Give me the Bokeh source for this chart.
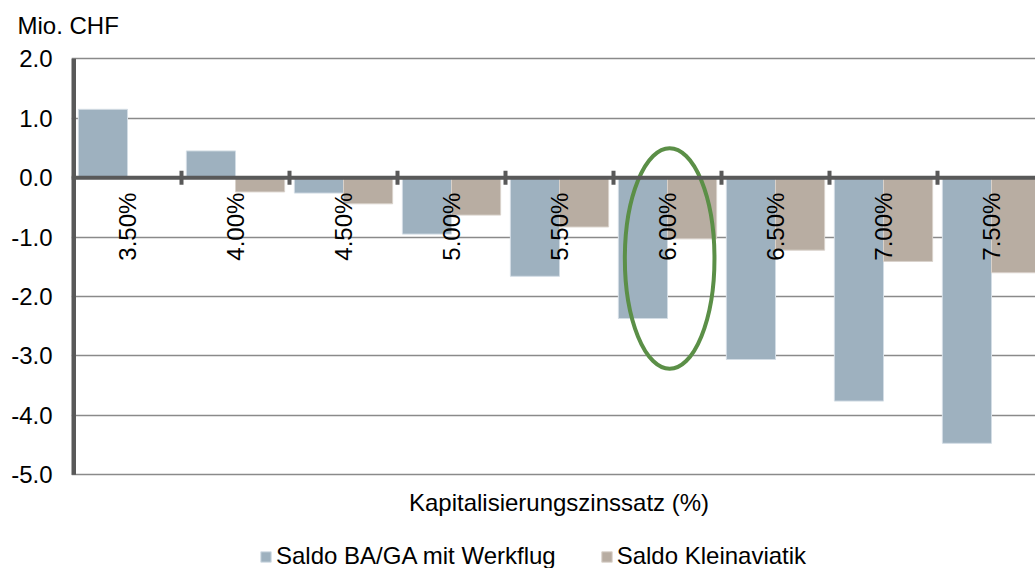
import math
from bokeh.plotting import figure
from bokeh.models import (Range1d, FixedTicker, NumeralTickFormatter, Span, Label,
                          Legend, LegendItem)
from bokeh.core.properties import value
from bokeh.embed import file_html
from bokeh.resources import INLINE

# ---------------- data ----------------
categories = ["3.50%", "4.00%", "4.50%", "5.00%", "5.50%", "6.00%", "6.50%", "7.00%", "7.50%"]
saldo_ba_ga = [1.15, 0.45, -0.26, -0.95, -1.66, -2.37, -3.06, -3.76, -4.47]
saldo_klein = [0.0, -0.24, -0.44, -0.63, -0.83, -1.03, -1.22, -1.41, -1.60]
series_names = ["Saldo BA/GA mit Werkflug", "Saldo Kleinaviatik"]
y_ticks = [-5, -4, -3, -2, -1, 0, 1, 2]
y_unit_label = "Mio. CHF"
x_title = "Kapitalisierungszinssatz (%)"
highlight = "6.00%"

# ---------------- style / geometry ----------------
FONT = "Liberation Sans"
FS = "24px"
AXIS_COLOR = "#595959"
GRID_COLOR = "#8a8a8a"
BA_COLOR = "#9EB1BF"
BA_EDGE = "#d3dde5"
KL_COLOR = "#B8ADA2"
KL_EDGE = "#d9d2cb"
ELLIPSE_COLOR = "#5B8F47"

W, H = 1035, 568
FRAME_LEFT = 71          # px, left edge of plotting frame
X0_PX = 73               # px, where category 0 starts
CAT_PX = 108             # px per category
FRAME_TOP = 40
Y_TOP_PX, Y_BOT_PX = 58.3, 474.3   # px of the top / bottom tick
PX_PER_UNIT = (Y_BOT_PX - Y_TOP_PX) / (y_ticks[-1] - y_ticks[0])
BAR_W = 0.455
TICK_LABEL_RIGHT = 52    # px, right edge of y tick labels

x_start = -(X0_PX - FRAME_LEFT) / CAT_PX
x_end = (W - X0_PX) / CAT_PX
y_end = y_ticks[-1] + (Y_TOP_PX - FRAME_TOP) / PX_PER_UNIT
y_start = y_ticks[0] - (H - Y_BOT_PX) / PX_PER_UNIT

p = figure(width=W, height=H, output_backend="svg", toolbar_location=None,
           x_range=Range1d(x_start, x_end), y_range=Range1d(y_start, y_end),
           x_axis_location=None,
           min_border_left=FRAME_LEFT, min_border_right=0, min_border_top=FRAME_TOP,
           min_border_bottom=0)
p.outline_line_color = None
p.background_fill_color = "white"

# unit label as plot title (above, left)
p.title.text = y_unit_label
p.title.align = "left"
p.title.offset = 17 - FRAME_LEFT
p.title.standoff = 4
p.title.text_font = FONT
p.title.text_font_size = FS
p.title.text_font_style = "normal"
p.title.text_color = "black"

# y axis (labels only; the line is drawn between -5 and 2 below)
yax = p.yaxis[0]
yax.ticker = FixedTicker(ticks=y_ticks)
yax.formatter = NumeralTickFormatter(format="0.0")
yax.major_tick_line_color = None
yax.minor_tick_line_color = None
yax.major_tick_out = 0
yax.major_tick_in = 0
yax.axis_line_color = None
yax.major_label_text_font = FONT
yax.major_label_text_font_size = FS
yax.major_label_text_color = "black"
yax.major_label_standoff = FRAME_LEFT - TICK_LABEL_RIGHT

p.xgrid.visible = False
p.ygrid.ticker = FixedTicker(ticks=y_ticks)
p.ygrid.grid_line_color = GRID_COLOR
p.ygrid.grid_line_width = 1.5

# bars
idx = list(range(len(categories)))
centers = [i + 0.5 for i in idx]
ba_x = [c - BAR_W / 2 for c in centers]
kl_x = [c + BAR_W / 2 for c in centers]

r_ba = p.vbar(x=ba_x, width=BAR_W, top=saldo_ba_ga, bottom=0,
              fill_color=BA_COLOR, line_color=BA_EDGE, line_width=1)
r_kl = p.vbar(x=kl_x, width=BAR_W, top=saldo_klein, bottom=0,
              fill_color=KL_COLOR, line_color=KL_EDGE, line_width=1)

# left axis line, zero axis line and category tick marks
p.segment(x0=[0], y0=[y_ticks[0]], x1=[0], y1=[y_ticks[-1]],
          line_color=AXIS_COLOR, line_width=5)
p.add_layout(Span(location=0, dimension="width", line_color=AXIS_COLOR, line_width=4))
bounds = idx[1:]
tick_half = 7 / PX_PER_UNIT
p.segment(x0=bounds, y0=[-tick_half] * len(bounds), x1=bounds, y1=[tick_half] * len(bounds),
          line_color=AXIS_COLOR, line_width=4)

# category labels (rotated)
p.text(x=centers, y=[0] * len(centers), text=categories, angle=math.pi / 2,
       text_align="right", text_baseline="middle", y_offset=15,
       text_font=value(FONT), text_font_size=value(FS), text_color="black")

# highlight ellipse
hl = categories.index(highlight)
p.ellipse(x=[hl + 0.52], y=[-1.36], width=[0.83], height=[3.71],
          fill_color=None, line_color=ELLIPSE_COLOR, line_width=4)

# axis title
p.add_layout(Label(x=558.5 - FRAME_LEFT, y=H - 502, x_units="screen", y_units="screen",
                   text=x_title, text_font=FONT, text_font_size=FS, text_color="black",
                   text_align="center", text_baseline="alphabetic"))

# legend
legend = Legend(items=[LegendItem(label=series_names[0], renderers=[r_ba]),
                       LegendItem(label=series_names[1], renderers=[r_kl])],
                orientation="horizontal", location=(259 - FRAME_LEFT, -2),
                label_text_font=FONT, label_text_font_size=FS, label_text_color="black",
                glyph_width=13, glyph_height=13, label_standoff=4, spacing=44,
                padding=0, margin=0, label_height=28,
                border_line_color=None, background_fill_alpha=0)
p.add_layout(legend)

open("out.html", "w").write(file_html(p, INLINE))
